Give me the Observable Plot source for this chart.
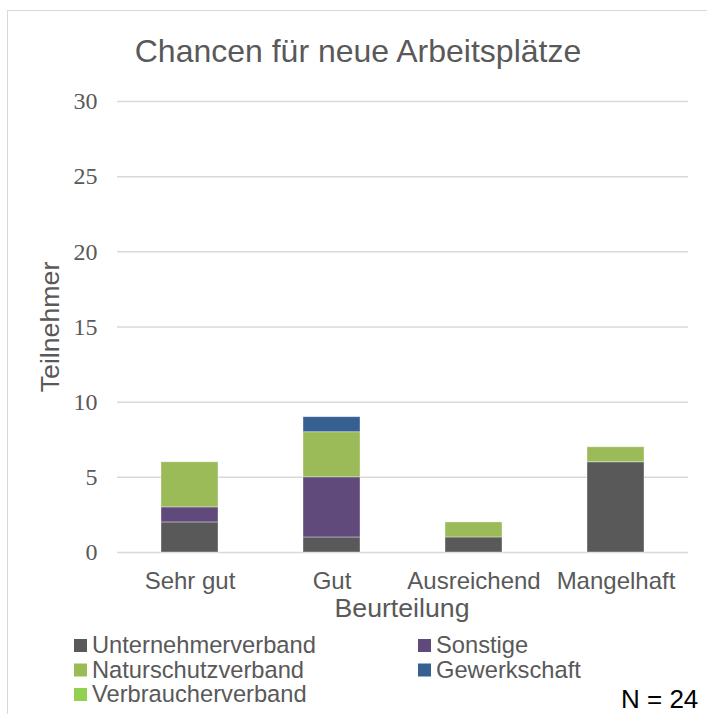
<!DOCTYPE html>
<html>
<head>
<meta charset="utf-8">
<script src="https://cdn.jsdelivr.net/npm/d3@7"></script>
<script src="https://cdn.jsdelivr.net/npm/@observablehq/plot@0.6"></script>
<style>
  html, body { margin: 0; padding: 0; background: #fff; }
  #wrap { position: relative; width: 707px; height: 714px; overflow: hidden; }
  #wrap > svg { position: absolute; left: 0; top: 0; }
  #frame { position: absolute; left: 7px; top: 10px; width: 720px; height: 720px;
           border-left: 1.5px solid #d9d9d9; border-top: 1.5px solid #d9d9d9; }
</style>
</head>
<body>
<div id="wrap"><div id="frame"></div></div>
<script>
const title = "Chancen für neue Arbeitsplätze";
const xTitle = "Beurteilung";
const yTitle = "Teilnehmer";
const note = "N = 24";
const categories = ["Sehr gut", "Gut", "Ausreichend", "Mangelhaft"];
const seriesNames = ["Unternehmerverband", "Sonstige", "Naturschutzverband", "Gewerkschaft", "Verbraucherverband"];
const seriesColors = ["#595959", "#604A7B", "#9BBB59", "#366092", "#92D050"];
const unternehmerverband = [2, 1, 1, 6];
const sonstige = [1, 4, 0, 0];
const naturschutzverband = [3, 3, 1, 1];
const gewerkschaft = [0, 1, 0, 0];
const verbraucherverband = [0, 0, 0, 0];
const yTicks = [0, 5, 10, 15, 20, 25, 30];

const seriesValues = [unternehmerverband, sonstige, naturschutzverband, gewerkschaft, verbraucherverband];
const data = [];
seriesNames.forEach((s, i) => {
  categories.forEach((c, j) => {
    data.push({ cat: c, series: s, value: seriesValues[i][j] });
  });
});

const W = 707, H = 714;
const chart = Plot.plot({
  width: W,
  height: H,
  marginTop: 101,
  marginBottom: 162,
  marginLeft: 117,
  marginRight: 19,
  style: { background: "transparent", color: "#595959", overflow: "visible" },
  x: { domain: categories, paddingInner: 0.6, paddingOuter: 0.3, label: null },
  y: { domain: [0, 30], label: null },
  color: { domain: seriesNames, range: seriesColors },
  marks: [
    Plot.gridY(yTicks, { stroke: "#d9d9d9", strokeOpacity: 1, strokeWidth: 1.5 }),
    Plot.barY(data, Plot.stackY({
      x: "cat", y: "value", fill: "series", order: seriesNames,
      stroke: "#ffffff", strokeOpacity: 0.45, strokeWidth: 0.8
    })),
    Plot.axisY(yTicks, { tickSize: 0, tickPadding: 20, fontFamily: "Liberation Serif", fontSize: 24, fill: "#595959", label: null }),
    Plot.axisX({ tickSize: 0, tickPadding: 19, fontFamily: "Liberation Sans", fontSize: 24, fill: "#595959", label: null })
  ]
});
document.getElementById("wrap").appendChild(chart);

// Overlay for title, axis titles, legend and note
const ov = d3.select("#wrap").append("svg")
  .attr("width", W).attr("height", H)
  .style("font-family", "Liberation Sans, Arial, sans-serif");

ov.append("text").attr("x", 358).attr("y", 62).attr("text-anchor", "middle")
  .attr("font-size", 32).attr("fill", "#595959").text(title);

ov.append("text").attr("x", 402).attr("y", 617).attr("text-anchor", "middle")
  .attr("font-size", 26.7).attr("fill", "#595959").text(xTitle);

ov.append("text").attr("transform", "translate(59,327) rotate(-90)").attr("text-anchor", "middle")
  .attr("font-size", 26.7).attr("fill", "#595959").text(yTitle);

const legendPos = [
  [74, 653], [418, 653],
  [74, 677.5], [418, 677.5],
  [74, 702]
];
seriesNames.forEach((s, i) => {
  const [lx, ly] = legendPos[i];
  ov.append("rect").attr("x", lx).attr("y", ly - 14).attr("width", 13).attr("height", 13)
    .attr("fill", seriesColors[i]);
  ov.append("text").attr("x", lx + 18).attr("y", ly).attr("font-size", 23.7)
    .attr("fill", "#595959").text(s);
});

ov.append("text").attr("x", 621).attr("y", 708).attr("font-size", 26)
  .attr("fill", "#000").text(note);
</script>
</body>
</html>
